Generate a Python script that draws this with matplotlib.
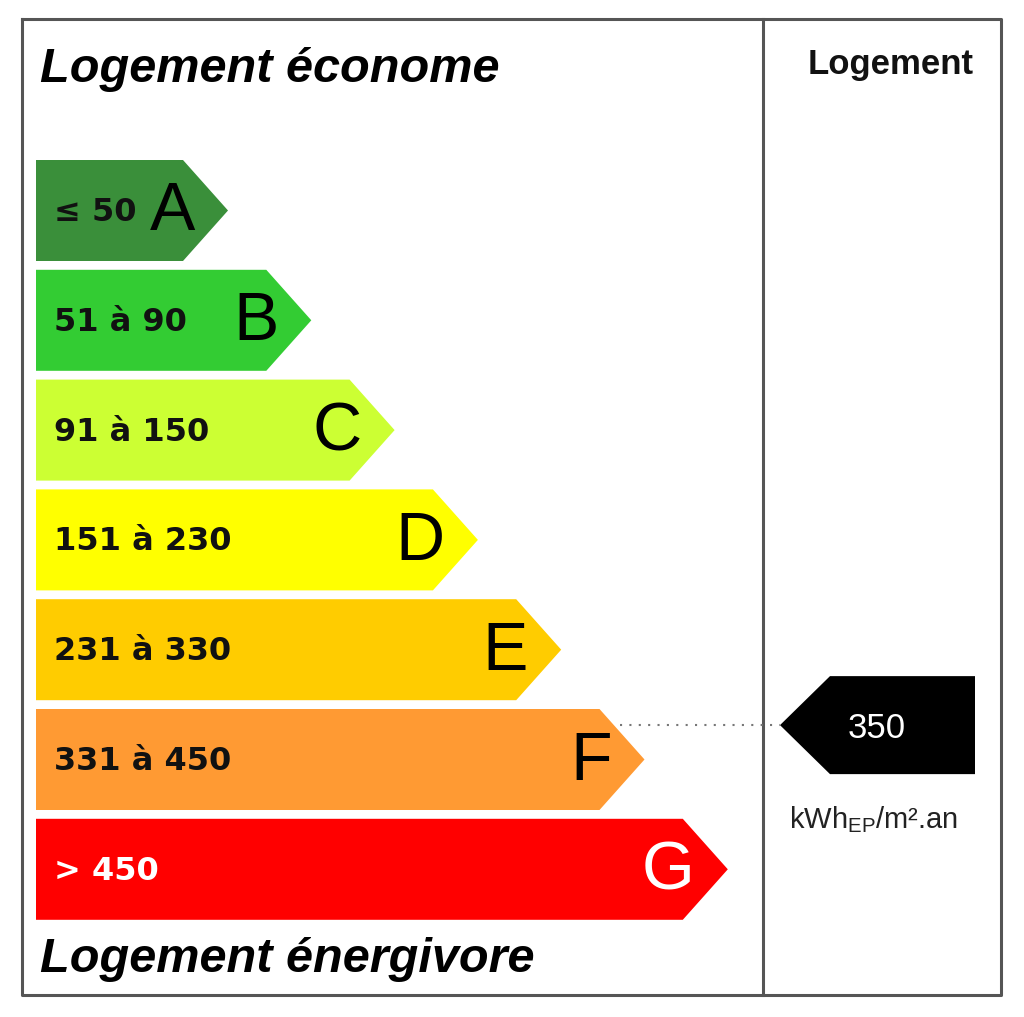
import matplotlib.pyplot as plt
from matplotlib.patches import Polygon

# Classes DPE et seuils (kWhEP/m².an)
classes = ["A", "B", "C", "D", "E", "F", "G"]
range_labels = ["≤ 50", "51 à 90", "91 à 150", "151 à 230", "231 à 330", "331 à 450", "> 450"]
lower_bounds = [0, 51, 91, 151, 231, 331, 451]
upper_bounds = [50, 90, 150, 230, 330, 450, 600]
class_colors = ["#3a8f3a", "#33cc33", "#ccff33", "#ffff00", "#ffcc00", "#ff9a33", "#ff0000"]
text_colors = ["#111111", "#111111", "#111111", "#111111", "#111111", "#111111", "white"]
valeur = 350
unite = r"kWh$_{\mathregular{EP}}$/m².an"

fig = plt.figure(figsize=(10.24, 10.17), dpi=100)
ax = fig.add_axes([0, 0, 1, 1])
ax.set_xlim(0, 1024)
ax.set_ylim(1017, 0)
ax.axis("off")

# Cadre
frame_kw = dict(color="#555555", lw=2.2, solid_capstyle="projecting")
ax.plot([22, 1001, 1001, 22, 22], [19, 19, 995, 995, 19], **frame_kw)
ax.plot([763, 763], [19, 995], **frame_kw)

# Barres des classes
x0 = 36
row_top = 160
bar_h = 101
tip = 45
for i, cl in enumerate(classes):
    top = row_top + i * 109.8
    right = 183 + i * 83.3
    pts = [(x0, top), (right, top), (right + tip, top + bar_h / 2),
           (right, top + bar_h), (x0, top + bar_h)]
    ax.add_patch(Polygon(pts, closed=True, fc=class_colors[i], ec="none"))
    ax.text(x0 + 18, top + bar_h / 2 + 2, range_labels[i], family="DejaVu Sans",
            weight="bold", fontsize=23, color=text_colors[i], va="center", ha="left")
    ax.text(right + tip - 33, top + bar_h / 2 + 2, cl, family="Liberation Sans",
            fontsize=49, color=text_colors[i] if i == 6 else "black",
            va="center", ha="right")

# Position de la valeur dans sa classe
k = next(i for i in range(len(classes)) if lower_bounds[i] <= valeur <= upper_bounds[i])
frac = (valeur - lower_bounds[k]) / (upper_bounds[k] - lower_bounds[k])
y_val = row_top + k * 109.8 + frac * bar_h
right_k = 183 + k * 83.3
x_start = right_k + (y_val - (row_top + k * 109.8)) / (bar_h / 2) * tip

# Flèche noire
ah = 98
ax.add_patch(Polygon([(780, y_val), (830, y_val - ah / 2), (975, y_val - ah / 2),
                      (975, y_val + ah / 2), (830, y_val + ah / 2)],
                     closed=True, fc="black", ec="none"))
ax.plot([x_start + 6, 780], [y_val, y_val], color="#777777", lw=1.5,
        linestyle=(0, (1, 3.5)))
ax.text(877, y_val + 3, str(valeur), family="Liberation Sans", fontsize=25,
        color="white", ha="center", va="center")
ax.text(874, 828, unite, family="Liberation Sans", fontsize=21,
        color="#222222", ha="center", va="baseline")

# Titres
ax.text(40, 82, "Logement économe", family="Liberation Sans", weight="bold",
        style="italic", fontsize=35, va="baseline", ha="left")
ax.text(40, 972, "Logement énergivore", family="Liberation Sans", weight="bold",
        style="italic", fontsize=35, va="baseline", ha="left")
ax.text(891, 74, "Logement", family="Liberation Sans", weight="bold",
        fontsize=25, va="baseline", ha="center", color="#111111")

fig.savefig("out.png", dpi=100)
